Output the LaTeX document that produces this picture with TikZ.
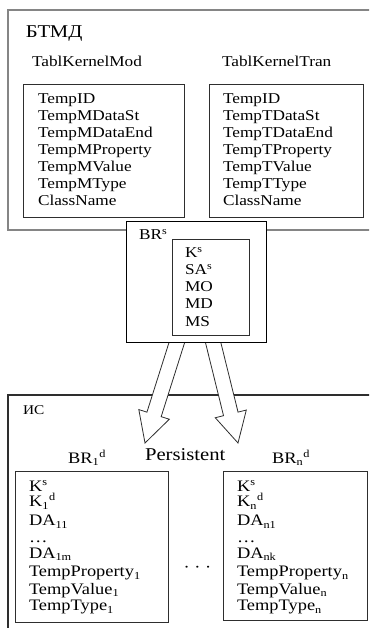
\documentclass[tikz,border=0pt]{standalone}
\usepackage{fontspec}
\setmainfont{Liberation Serif}[FakeStretch=1.15]
\usetikzlibrary{calc, positioning}

\begin{document}
\begin{tikzpicture}[
    x=0.75pt, y=-0.75pt,
    every node/.style={inner sep=0pt, outer sep=0pt, font=\fontsize{11.25}{13}\selectfont},
    item/.style={anchor=base west},
    bigtext/.style={font=\fontsize{13.5}{15}\selectfont},
    lowtext/.style={font=\fontsize{12}{14}\selectfont},
    outerbox/.style={draw=framecolor, line width=1.1pt},
    innerbox/.style={draw=boxcolor, line width=0.75pt},
    blockarrow/.style={draw=boxcolor, fill=white, line width=0.6pt, line join=miter},
]

\definecolor{framecolor}{HTML}{858585}
\definecolor{boxcolor}{HTML}{2E2E2E}

\useasboundingbox (0,0) rectangle (369,628);
\clip (0,0) rectangle (369,628);

% ================================================================
% Two frames, both cut by the right edge of the picture:
%   БТМД   top     (8,10)
%   ИС     bottom  (8,395)
% BR^s sits on the lower edge of БТМД, its two arrows go down into ИС.
% ================================================================

% ---------------------------------------------------------------- frames
\draw[outerbox] (8,10) rectangle (385,230);
\draw[draw=boxcolor, line width=0.8pt] (8,395) rectangle (385,640);

% ---------------------------------------------------------------- БТМД
\node[bigtext, item] (btmd) at (26,37.7) {БТМД};
\node[item] (modtitle) at (32,66) {TablKernelMod};
\node[item] (trantitle) at (222,66) {TablKernelTran};

\draw[innerbox] (23,84) rectangle (184,217);
\draw[innerbox] (209,84) rectangle (363,217);

\foreach \t [count=\i from 0] in {TempID, TempMDataSt, TempMDataEnd,
    TempMProperty, TempMValue, TempMType, ClassName} {
  \node[item] (mod\i) at (38, 103.3+\i*16.95) {\t};
}
\foreach \t [count=\i from 0] in {TempID, TempTDataSt, TempTDataEnd,
    TempTProperty, TempTValue, TempTType, ClassName} {
  \node[item] (tran\i) at (223, 103.3+\i*16.95) {\t};
}

% ---------------------------------------------------------------- arrows
% hollow block arrows, drawn before BR^s so the box hides their tails
\foreach \a/\b [count=\k] in {177/145, 213/238} {
  \coordinate (s) at (\a,342);
  \coordinate (t) at (\b,443);
  \coordinate (s') at ($(t)!1.12!(s)$);
  \coordinate (h) at ($(t)!22.5pt!(s)$);   % head base
  \filldraw[blockarrow]
      ($(s')!5.6pt!90:(t)$) -- ($(h)!5.6pt!90:(t)$) -- ($(h)!12pt!90:(t)$)
      -- (t) coordinate (tip\k)
      -- ($(h)!12pt!-90:(t)$) -- ($(h)!5.6pt!-90:(t)$) -- ($(s')!5.6pt!-90:(t)$)
      -- cycle;
}

% ---------------------------------------------------------------- BR^s
\filldraw[draw=black, fill=white, line width=0.75pt] (126,221) rectangle (266,342);
\draw[innerbox] (172,239) rectangle (249,335);
\node[item] (brs) at (139,239.3) {BR\textsuperscript{s}};

\foreach \t [count=\i from 0] in {K\textsuperscript{s}, SA\textsuperscript{s}, MO, MD, MS} {
  \node[item] (key\i) at (185, 257.3+\i*17.2) {\t};
}

% ---------------------------------------------------------------- ИС
\node[font=\fontsize{10}{12}\selectfont, item] (is) at (23,414.3) {ИС};
\node[bigtext, item] (persist) at (145,460.7) {Persistent};
\node[lowtext, item] (brone) at (68,463) {BR\textsubscript{1}\textsuperscript{d}};
\node[lowtext, item] (brn) at (272,463) {BR\textsubscript{n}\textsuperscript{d}};

\draw[innerbox] (15,471) rectangle (168,622);
\draw[innerbox] (223,471) rectangle (367,620);

\foreach \t/\y [count=\i from 0] in {K\textsuperscript{s}/491,
    K\textsubscript{1}\textsuperscript{d}/506.7, DA\textsubscript{11}/525.7,
    …/542, DA\textsubscript{1m}/558.3, TempProperty\textsubscript{1}/576.7,
    TempValue\textsubscript{1}/594, TempType\textsubscript{1}/610.7} {
  \node[lowtext, item] (one\i) at (29,\y) {\t};
}
\foreach \t/\y [count=\i from 0] in {K\textsuperscript{s}/491,
    K\textsubscript{n}\textsuperscript{d}/506.7, DA\textsubscript{n1}/525.7,
    …/542, DA\textsubscript{nk}/558.3, TempProperty\textsubscript{n}/576.7,
    TempValue\textsubscript{n}/594, TempType\textsubscript{n}/610.7} {
  \node[lowtext, item] (last\i) at (237,\y) {\t};
}

\node[lowtext, anchor=base] (gap) at (197.5,572) {· · ·};

\end{tikzpicture}
\end{document}
